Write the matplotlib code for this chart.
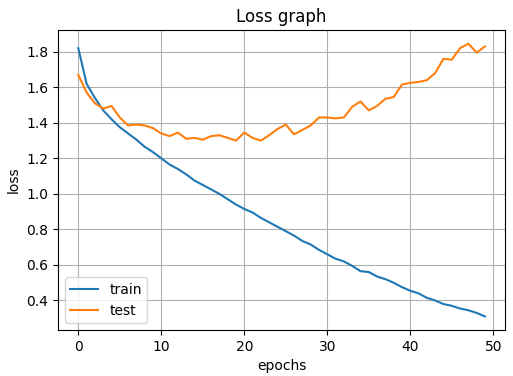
import matplotlib
matplotlib.use('Agg')
import matplotlib.pyplot as plt

epochs = list(range(50))
train_loss = [1.82, 1.62, 1.54, 1.47, 1.42, 1.375, 1.34, 1.305, 1.265, 1.235,
              1.20, 1.165, 1.14, 1.11, 1.075, 1.05, 1.025, 1.0, 0.97, 0.94,
              0.915, 0.895, 0.865, 0.84, 0.815, 0.79, 0.765, 0.735, 0.715, 0.685,
              0.66, 0.635, 0.62, 0.595, 0.565, 0.56, 0.535, 0.52, 0.50, 0.475,
              0.455, 0.44, 0.415, 0.40, 0.38, 0.37, 0.355, 0.345, 0.33, 0.31]
test_loss = [1.67, 1.57, 1.51, 1.48, 1.495, 1.43, 1.385, 1.39, 1.385, 1.37,
             1.34, 1.325, 1.345, 1.31, 1.315, 1.305, 1.325, 1.33, 1.315, 1.30,
             1.345, 1.315, 1.30, 1.33, 1.365, 1.39, 1.335, 1.36, 1.385, 1.43,
             1.43, 1.425, 1.43, 1.49, 1.52, 1.47, 1.495, 1.535, 1.545, 1.615,
             1.625, 1.63, 1.64, 1.68, 1.76, 1.755, 1.82, 1.845, 1.795, 1.83]

fig, ax = plt.subplots(figsize=(5.13, 3.76), dpi=100)
ax.plot(epochs, train_loss, label='train')
ax.plot(epochs, test_loss, label='test')
ax.set_title('Loss graph')
ax.set_xlabel('epochs')
ax.set_ylabel('loss')
ax.grid(True)
ax.legend(loc='lower left')
fig.subplots_adjust(left=0.113, right=0.985, top=0.92, bottom=0.122)
fig.savefig('out.png')
